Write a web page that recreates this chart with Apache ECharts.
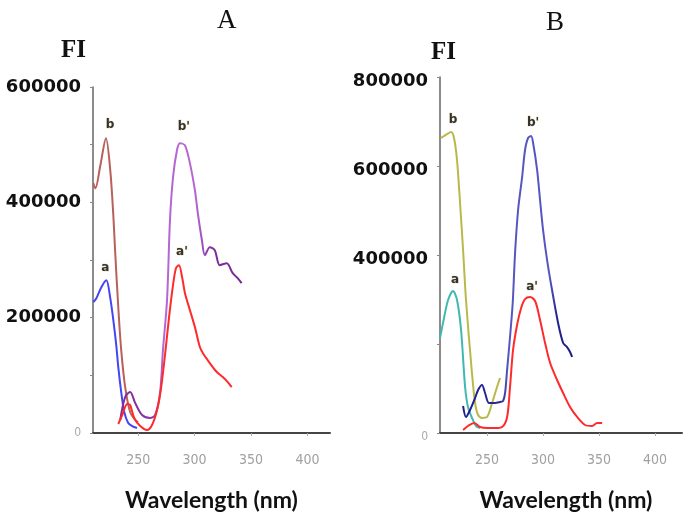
<!DOCTYPE html>
<html><head><meta charset="utf-8">
<script src="https://cdn.jsdelivr.net/npm/echarts@6/dist/echarts.min.js"></script>
<style>html,body{margin:0;padding:0;background:#fff}#c{width:685px;height:519px}</style>
</head><body><div id="c"></div>
<script>
// ---- Panel A ----
const aA_wl = [210.3,213,217.4,221.8,225.3,228,230.6,232.4,235,237.7,241.2,244.7,249];
const aA_fi = [226900,233800,252900,265000,233800,195700,152400,114300,71000,36400,17300,12100,8700];
const bA_wl = [210.3,212.1,216.5,221.5,225.3,228,229.7,232.4,235,238.5,242.9,247.4,250];
const bA_fi = [433000,424000,464000,511000,455500,377600,311800,218000,143800,79700,36400,22500,19000];
const a1A_wl = [232.4,235.9,240.3,242.9,246.5,251.8,257.9,262.3,266.8,270.3,273.8,277.3,280.9,283.5,286.2,288.8,291.5,295.9,300.3,304.7,307.3,313.5,319.7,325,329.4,332.9];
const a1A_fi = [15600,31200,50200,48500,26000,12100,5200,13900,39800,77900,135100,199200,256300,285800,291000,271900,242500,213000,183600,149000,138600,121200,105700,97000,88300,79700];
const b1A_wl = [234.1,238.5,242.9,247.4,253.5,260.6,265,269.4,272,275.6,278.2,280.9,284.4,287,291.5,295.9,300.3,302.9,306.5,309.1,313.5,317.9,322.3,328.5,333.8,338.2,341.7];
const b1A_fi = [22500,62400,71000,52000,31200,26000,31200,69300,143800,230400,368900,443400,490200,502300,498800,467600,420900,381000,334300,308300,322200,317000,291000,294400,277100,268500,259800];
// ---- Panel B ----
const aB_wl = [208,211.6,215.2,219.6,223.2,226.8,230.4,233,236.6,240.2,243.8];
const aB_fi = [213500,258400,298900,319100,298900,231400,103400,58400,33700,15700,11200];
const bB_wl = [208.9,211.6,214.3,217.9,220.5,223.2,225.9,228.6,231.2,236.3,239.3,242,245.5,250,254.5,258.9,261.6];
const bB_fi = [662900,667400,671900,676300,662900,613400,516800,411200,298900,141600,67400,40400,33700,36000,67400,103400,123600];
const a1B_wl = [228.6,233,238.4,243.8,250,257.1,263.4,267.9,270.5,273.2,276.8,280.4,283.9,288.4,292.9,297.3,301.8,306.3,312.5,317.9,324.1,330.4,337.5,343.8,348.2,352.7];
const a1B_fi = [6700,15700,22500,13500,11200,11200,13500,36000,103400,186500,242700,280900,301100,305600,296600,253900,202200,157300,119100,89900,58400,36000,18000,15700,22500,22500];
const b1B_wl = [228.6,231.2,234.8,239.3,242,245.5,248.2,251.8,257.1,261.6,264.3,266.1,267.9,270.5,272.9,275,277.7,281.3,283.9,286.6,289.3,291.1,294.7,297.3,300,303.6,308,313.4,317.9,321.4,324.1,325.9];
const b1B_fi = [60700,36000,51700,78600,96600,107900,89900,67400,67400,69700,71900,89900,141600,215700,292100,404500,501100,575200,635900,662900,667400,651600,591000,523600,456100,388700,321300,247200,202200,193200,182000,170800];
// tick labels
const xTicks = [250,300,350,400];
const yTicksA = [0,200000,400000,600000];
const yTicksB = [0,400000,600000,800000];

function zip(x,y){return x.map((v,i)=>[v,y[i]]);}
function peak(x,y){let k=0;y.forEach((v,i)=>{if(v>y[k])k=i;});return [x[k],y[k]];}

const chart = echarts.init(document.getElementById('c'), null, {renderer:'canvas'});

const labFont = {fontFamily:'DejaVu Sans', fontWeight:'bold', fontSize:18, color:'#111'};
function yAxisCfg(gi,max,interval,labels,pad){
  return {
    gridIndex:gi, type:'value', min:0, max:max, interval:interval,
    axisLine:{show:true, lineStyle:{color:'#666', width:1.5}},
    axisTick:{show:true, length:3, lineStyle:{color:'#888'}},
    splitLine:{show:false},
    axisLabel:{
      margin:12, padding:pad,
      formatter:function(v){ if(v===0) return '{z|0}'; return labels.indexOf(v)>=0 ? '{b|'+v+'}' : ''; },
      rich:{ b:labFont, z:{fontFamily:'DejaVu Sans Condensed, Liberation Sans Narrow, sans-serif', fontSize:12, color:'#aaa'} }
    }
  };
}
function xAxisCfg(gi,min,max,npad){
  return {
    gridIndex:gi, type:'value', min:min, max:max,
    axisLine:{show:true, onZero:false, lineStyle:{color:'#444', width:2}},
    axisTick:{show:true, customValues:xTicks, length:3, inside:false, lineStyle:{color:'#aaa'}},
    splitLine:{show:false},
    axisLabel:{customValues:xTicks, margin:20, fontSize:14, color:'#a0a0a0',
      fontFamily:'Liberation Sans Narrow, DejaVu Sans Condensed, sans-serif'},
    name:'Wavelength (nm)', nameLocation:'middle', nameGap:56,
    nameTextStyle:{fontFamily:'Lato', fontWeight:'bold', fontSize:23, color:'#111', padding:npad}
  };
}
function grad(stops){
  return new echarts.graphic.LinearGradient(0,0,1,0, stops.map(s=>({offset:s[0], color:s[1]})));
}
function line(name,xi,x,y,color,lab,off){
  const p = peak(x,y);
  return {
    name:name, type:'line', xAxisIndex:xi, yAxisIndex:xi, data:zip(x,y),
    showSymbol:false, smooth:0.3, lineStyle:{width:2, color:color}, itemStyle:{color:typeof color==='string'?color:'#888'},
    markPoint:{symbol:'circle', symbolSize:0, silent:true,
      data:[{coord:p, value:lab}],
      label:{show:true, position:'inside', offset:off, formatter:lab,
        fontFamily:'DejaVu Sans', fontWeight:'bold', fontSize:12, color:'#333',
        textBorderColor:'rgba(230,210,150,0.6)', textBorderWidth:1}}
  };
}

chart.setOption({
  animation:false,
  backgroundColor:'#fff',
  title:[
    {text:'A', left:212, top:2, textStyle:{fontFamily:'Liberation Serif', fontWeight:'normal', fontSize:27, color:'#111'}},
    {text:'B', left:541, top:4, textStyle:{fontFamily:'Liberation Serif', fontWeight:'normal', fontSize:27, color:'#111'}},
    {text:'FI', left:56, top:33, textStyle:{fontFamily:'Liberation Serif', fontWeight:'bold', fontSize:25, color:'#111'}},
    {text:'FI', left:426, top:35, textStyle:{fontFamily:'Liberation Serif', fontWeight:'bold', fontSize:25, color:'#111'}}
  ],
  grid:[
    {left:93, right:355, top:87, bottom:86, containLabel:false},
    {left:440, right:3, top:77, bottom:86, containLabel:false}
  ],
  xAxis:[ xAxisCfg(0,210,420,[0,0,0,0]), xAxisCfg(1,208,424,[0,0,0,10]) ],
  yAxis:[ yAxisCfg(0,600000,100000,yTicksA,[0,0,0,0]), yAxisCfg(1,800000,200000,yTicksB,[8,0,0,0]) ],
  series:[
    line('b',0,bA_wl,bA_fi,'#b8605a','b',[4,-13]),
    line('a',0,aA_wl,aA_fi,'#4545f2','a',[-1,-12]),
    line("b'",0,b1A_wl,b1A_fi,grad([[0,'#7a2a98'],[0.28,'#8a3aaa'],[0.36,'#b566d3'],[0.62,'#b566d3'],[0.75,'#7c2c9a'],[1,'#7a2a98']]),"b'",[4,-16]),
    line("a'",0,a1A_wl,a1A_fi,'#ff2a2a',"a'",[3,-13]),
    line('bB',1,bB_wl,bB_fi,'#b9b94a','b',[2,-12]),
    line('aB',1,aB_wl,aB_fi,'#3fb8b2','a',[2,-11]),
    line("b'B",1,b1B_wl,b1B_fi,grad([[0,'#1c1c8c'],[0.35,'#2a2a98'],[0.42,'#5656c0'],[0.78,'#5656c0'],[0.85,'#22228e'],[1,'#1c1c8c']]),"b'",[2,-13]),
    line("a'B",1,a1B_wl,a1B_fi,'#ff2a2a',"a'",[2,-10])
  ]
});
</script></body></html>
